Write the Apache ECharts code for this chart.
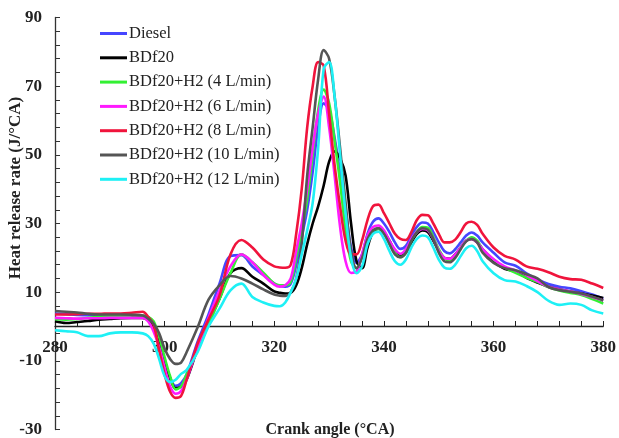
<!DOCTYPE html>
<html>
<head>
<meta charset="utf-8">
<script src="https://cdn.jsdelivr.net/npm/echarts@6/dist/echarts.min.js"></script>
<style>
  html, body { margin: 0; padding: 0; background: #fff; }
  #chart { width: 619px; height: 438px; }
</style>
</head>
<body>
<div id="chart"></div>
<script>
// Crank angle samples (°CA) shared by every curve
const crankAngle = [280,282,284,286,288,290,292,294,296,
  297,298,299,300,301,302,303,304,
  306,308,310,312,314,316,318,320,
  321,322,323,324,325,326,327,328,329,330,331,332,333,334,335,336,337,338,339,340,
  341,342,343,344,345,346,347,348,349,350,351,352,353,354,355,356,357,358,
  360,362,364,366,368,370,372,374,376,378,380];

// Heat release rate (J/°CA) for each fuel
const diesel = [3.8,3.6,3.4,3.3,3.3,3.3,3.3,3.3,3.2,
  2.6,0.5,-4,-10,-15,-17.3,-16.5,-14,
  -4.5,3.5,12.5,20.5,20.8,17.5,15,12.5,
  11.8,11.6,12.5,18,26,34,45,58,65,63,55,45,34,23,18.5,21,27,30.5,31.5,30,
  27.5,24.5,22.6,23.5,26.5,29,30.3,30,27.5,24.5,22,21.3,22.5,24.5,26.5,27.4,26.5,24.5,
  21.5,18.7,17.7,15.5,13.7,12.4,11.6,11.1,10.3,9.3,8.1];

const bdf20 = [1.5,1.0,1.3,1.6,2.0,2.2,2.4,2.5,2.5,
  1.8,0,-4.5,-10,-15,-18,-17.5,-15.5,
  -6.5,1,8.1,15.5,17,14.5,12.5,10.2,
  9.8,9.6,9.8,12,17,24,30,35,41,48,51,49,44,30,19,17,23,27.5,28.5,27.5,
  25,22,20.5,21.5,24.5,27,28,27.5,25,22,20,19.7,21,23,25,25.5,24.5,22.5,
  19,16.8,16,14.2,12.8,11.6,10.8,10.2,9.6,9,8.3];

const h2_4 = [2.1,2.0,2.2,2.5,2.8,3.0,3.1,3.2,3.2,
  2.8,1.5,-3,-9,-14.5,-18.3,-17.5,-14,
  -7,0.5,8,15.5,21,18.7,15.7,12.5,
  12,12,13,20,28,37,50,63,69,65,54,42,28,19,17,20.5,25.5,28,28.4,27,
  24.5,21.5,20.2,21.5,25,27.5,29,28.8,26,22.5,20,19.2,20.5,23,25,26,25,22.5,
  19.5,17.2,15.6,14.2,13,11.5,10.5,9.8,9.2,8,6.7];

const h2_6 = [2.5,2.4,2.3,2.4,2.4,2.5,2.5,2.5,2.5,
  1.5,-1.5,-6,-12,-17.5,-19.6,-18.8,-15.5,
  -6,2.5,10.5,17.5,21,18.7,15,12.2,
  11.6,12,14,22,30,40,52,62,67,58,44,29,19,15.6,16,21,26.5,29,29.4,28,
  25,22.5,21.2,22.5,25.5,27.5,28.4,28,25.5,22,20,19.7,21,23,25,25.5,24.5,22.5,
  19.6,17.5,16.3,15,13.2,11.6,10.8,10.2,9.5,8.6,7.6];

const h2_8 = [3.5,3.5,3.6,3.7,3.7,3.8,3.8,4.0,4.3,
  2.8,0.5,-7,-14,-19,-20.8,-20.2,-15.5,
  -5,2,9,21,25.2,23,19.5,17.5,
  17.2,17.1,18,27,40,58,70,77,76,62,47,35,25,21,21,25,31,35,35.5,33,
  30,27,25.5,25.2,27.5,31,32.5,32.4,30,27,24.5,24.5,25.3,27.5,30,30.5,29.6,27,
  23,20.6,19.5,17.5,16.8,15.8,14.5,13.8,13.6,12.5,11.2];

const h2_10 = [4.5,4.3,4.1,3.7,3.5,3.5,3.5,3.4,3.2,
  2.3,0.8,-2,-6.5,-9.5,-10.9,-10.5,-7.5,
  -0.3,7.8,12,14.7,14,12.5,10.8,9.3,
  9,8.9,10,14,24,44,58,72,80.5,78,67,52,36,22,17,20,25.5,28,28.6,27,
  24,21,20.2,21.5,25,27.5,28.6,28.2,25.5,21.5,19,18.7,20,22.5,24.8,25.5,24.5,21.5,
  18.5,17,16.4,15.2,14,11.5,10.6,10.1,9.6,8.7,7.6];

const h2_12 = [-1.1,-1.4,-1.7,-2.8,-2.8,-2.0,-1.7,-1.7,-2.0,
  -2.8,-5,-9.5,-14.5,-16.2,-15.5,-13.8,-12.7,
  -7.5,0,5.2,10.5,12.5,8.6,7,6,
  5.9,7,10,14,21,28,36,52,75,77,67,50,33,20,15.5,17.5,24,27,27.6,25.5,
  22,19,18,19.5,23,25.5,26.5,26,23,19.5,17.2,16.8,18,20.5,22.8,23.5,22,19,
  15.5,13.5,13.1,11.8,10,7.5,6.3,6.7,6.3,4.7,3.8];

const seriesNames = ['Diesel','BDf20','BDf20+H2 (4 L/min)','BDf20+H2 (6 L/min)',
  'BDf20+H2 (8 L/min)','BDf20+H2 (10 L/min)','BDf20+H2 (12 L/min)'];
const seriesValues = [diesel, bdf20, h2_4, h2_6, h2_8, h2_10, h2_12];
const seriesColors = ['#4646ff','#000000','#33f033','#ff1aff','#f0143c','#555555','#1ef0f5'];

const serif = "'Liberation Serif', 'Times New Roman', serif";

// plot box geometry; the crank-angle axis sits on the zero line of the heat release axis
const plotTop = 17.5, plotHeight = 414, yMin = -30, yMax = 90;
const zeroShift = plotHeight * (0 - yMin) / (yMax - yMin);

const chart = echarts.init(document.getElementById('chart'), null, { renderer: 'canvas' });

chart.setOption({
  animation: false,
  backgroundColor: '#ffffff',
  grid: { left: 55, top: plotTop, width: 550, height: plotHeight, containLabel: false },
  legend: {
    orient: 'vertical',
    left: 95,
    top: 20,
    itemWidth: 27,
    itemHeight: 14,
    itemGap: 7.3,
    data: seriesNames.map((n) => ({
      name: n,
      icon: 'path://M0,6 L27,6 L27,9 L0,9 Z'
    })),
    textStyle: { fontFamily: serif, fontSize: 16.5, color: '#222', lineHeight: 16, padding: [0, 0, 0, -3] }
  },
  xAxis: {
    type: 'value',
    position: 'bottom',
    offset: -zeroShift,
    min: 280, max: 380, interval: 20,
    axisLine: { onZero: false, lineStyle: { color: '#222', width: 1.3 } },
    axisTick: { show: true, inside: true, length: 5, lineStyle: { color: '#222' } },
    minorTick: { show: true, splitNumber: 5, length: 5, lineStyle: { color: '#222' } },
    splitLine: { show: false },
    axisLabel: { fontFamily: serif, fontSize: 17, fontWeight: 'bold', color: '#222', margin: 13 }
  },
  yAxis: {
    type: 'value',
    min: yMin, max: yMax, interval: 20,
    axisLine: { show: true, onZero: false, lineStyle: { color: '#333', width: 1.3 } },
    axisTick: { show: true, inside: true, length: 5, lineStyle: { color: '#333' } },
    minorTick: { show: true, splitNumber: 5, length: 5, lineStyle: { color: '#333' } },
    splitLine: { show: false },
    axisLabel: { fontFamily: serif, fontSize: 17, fontWeight: 'bold', color: '#222', margin: 13 }
  },
  graphic: [
    {
      type: 'text',
      x: 16, y: 188,
      rotation: Math.PI / 2,
      style: {
        text: 'Heat release rate (J/°CA)',
        font: "bold 17px 'Liberation Serif', 'Times New Roman', serif",
        fill: '#222',
        align: 'center',
        verticalAlign: 'middle'
      }
    },
    {
      type: 'text',
      x: 330, y: 430,
      style: {
        text: 'Crank angle (°CA)',
        font: "bold 16px 'Liberation Serif', 'Times New Roman', serif",
        fill: '#222',
        align: 'center',
        verticalAlign: 'middle'
      }
    }
  ],
  series: seriesNames.map((name, i) => ({
    name: name,
    type: 'line',
    symbol: 'none',
    smooth: 0.35,
    data: crankAngle.map((x, j) => [x, seriesValues[i][j]]),
    lineStyle: { color: seriesColors[i], width: 2.6 },
    itemStyle: { color: seriesColors[i] }
  }))
});
</script>
</body>
</html>
